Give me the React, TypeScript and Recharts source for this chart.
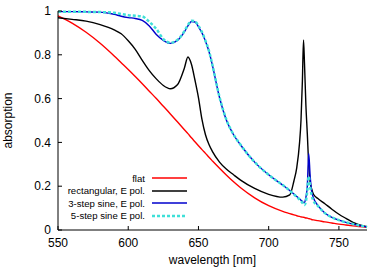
import { LineChart, Line, XAxis, YAxis, Legend } from 'recharts'

const FONT = '"Liberation Sans", Arial, Helvetica, sans-serif'

// wavelength grid in nm (denser around the narrow resonances near 725 nm)
const wavelength = [
  550, 560, 570, 580, 590, 595, 600, 605, 610, 615, 620, 625, 630, 635, 640, 642.5, 645, 647.5,
  650, 652.5, 655, 657.5, 660, 665, 670, 675, 680, 690, 700, 710, 715, 718, 720, 722, 723, 724,
  724.8, 725.5, 726.5, 727.5, 728.5, 729.5, 730.5, 732, 735, 740, 745, 750, 755, 760, 770,
]

const flat = [
  0.978, 0.945, 0.903, 0.853, 0.795, 0.764, 0.733, 0.701, 0.668, 0.634, 0.6, 0.565, 0.53, 0.494,
  0.458, 0.44, 0.421, 0.403, 0.385, 0.367, 0.35, 0.332, 0.315, 0.282, 0.25, 0.22, 0.193, 0.147,
  0.111, 0.085, 0.075, 0.069, 0.065, 0.062, 0.06, 0.059, 0.058, 0.057, 0.055, 0.054, 0.052, 0.051,
  0.048, 0.046, 0.043, 0.037, 0.032, 0.027, 0.023, 0.019, 0.012,
]

const rectangular = [
  0.969, 0.962, 0.954, 0.938, 0.914, 0.896, 0.864, 0.825, 0.775, 0.728, 0.69, 0.66, 0.645, 0.663,
  0.74, 0.79, 0.757, 0.685, 0.605, 0.505, 0.435, 0.39, 0.358, 0.31, 0.277, 0.252, 0.228, 0.19,
  0.163, 0.15, 0.16, 0.225, 0.285, 0.4, 0.5, 0.68, 0.868, 0.76, 0.57, 0.44, 0.3, 0.22, 0.19,
  0.162, 0.144, 0.12, 0.095, 0.072, 0.053, 0.035, 0.015,
]

const sine3 = [
  0.997, 0.997, 0.996, 0.995, 0.985, 0.976, 0.97, 0.966, 0.957, 0.932, 0.893, 0.866, 0.852, 0.866,
  0.905, 0.932, 0.952, 0.95, 0.928, 0.9, 0.862, 0.815, 0.75, 0.605, 0.5, 0.435, 0.388, 0.31,
  0.252, 0.205, 0.18, 0.164, 0.153, 0.142, 0.136, 0.13, 0.125, 0.126, 0.15, 0.2, 0.35, 0.25, 0.18,
  0.145, 0.112, 0.078, 0.058, 0.045, 0.035, 0.027, 0.014,
]

const sine5 = [
  0.997, 0.997, 0.996, 0.995, 0.992, 0.986, 0.981, 0.978, 0.975, 0.95, 0.918, 0.872, 0.855, 0.868,
  0.908, 0.936, 0.955, 0.953, 0.932, 0.904, 0.864, 0.818, 0.752, 0.607, 0.502, 0.436, 0.389, 0.31,
  0.252, 0.205, 0.18, 0.163, 0.151, 0.139, 0.132, 0.124, 0.118, 0.114, 0.13, 0.18, 0.245, 0.2, 0.16,
  0.132, 0.11, 0.077, 0.058, 0.045, 0.035, 0.027, 0.014,
]

const xTicks = [550, 600, 650, 700, 750]
const yTicks = [0, 0.2, 0.4, 0.6, 0.8, 1]

const series = [
  { key: 'flat', name: 'flat', color: '#ff0000', width: 1.4, dash: undefined },
  { key: 'rect', name: 'rectangular, E pol.', color: '#000000', width: 1.4, dash: undefined },
  { key: 'sine3', name: '3-step sine, E pol.', color: '#0000cc', width: 1.4, dash: undefined },
  { key: 'sine5', name: '5-step sine E pol.', color: '#3fe0d8', width: 2.5, dash: '3 2' },
]

const data = wavelength.map((wl, i) => ({
  wl,
  flat: flat[i],
  rect: rectangular[i],
  sine3: sine3[i],
  sine5: sine5[i],
}))

// gnuplot-style key: right-aligned text, sample line on the right
function KeyBox() {
  return (
    <div style={{ fontFamily: FONT, fontSize: 9.6, color: '#000' }}>
      {series.map(s => (
        <div key={s.key} style={{ display: 'flex', alignItems: 'center', height: 12.45 }}>
          <span style={{ width: 145, textAlign: 'right', whiteSpace: 'nowrap' }}>{s.name}</span>
          <svg width={42} height={12} style={{ display: 'block' }}>
            <line x1={7} x2={42} y1={6} y2={6} stroke={s.color} strokeWidth={s.width} strokeDasharray={s.dash} />
          </svg>
        </div>
      ))}
    </div>
  )
}

const tickStyle = { fill: '#000', fontSize: 12, fontFamily: FONT }
const blank = () => ''

export default function App() {
  return (
    <div style={{ position: 'absolute', left: 0, top: 0 }}>
      <LineChart width={371} height={269} data={data} margin={{ top: 11, right: 4, bottom: 0, left: 8 }}>
        <XAxis
          xAxisId="x"
          dataKey="wl"
          type="number"
          domain={[550, 770]}
          ticks={xTicks}
          height={39}
          tick={tickStyle}
          tickSize={-4}
          tickMargin={12}
          stroke="#000"
          label={{ value: 'wavelength [nm]', position: 'insideBottom', offset: 5, fill: '#000', fontSize: 12, fontFamily: FONT }}
        />
        <XAxis
          xAxisId="top"
          orientation="top"
          type="number"
          domain={[550, 770]}
          ticks={xTicks}
          height={0}
          mirror
          tickSize={4}
          tickFormatter={blank}
          stroke="#000"
        />
        <YAxis
          yAxisId="y"
          type="number"
          domain={[0, 1]}
          ticks={yTicks}
          width={50}
          tick={tickStyle}
          tickSize={-4}
          tickMargin={11}
          stroke="#000"
          label={{ value: 'absorption', angle: -90, position: 'insideLeft', offset: 0, fill: '#000', fontSize: 12, fontFamily: FONT, style: { textAnchor: 'middle' } }}
        />
        <YAxis
          yAxisId="right"
          orientation="right"
          type="number"
          domain={[0, 1]}
          ticks={yTicks}
          width={0}
          mirror
          tickSize={4}
          tickFormatter={blank}
          stroke="#000"
        />
        <Legend
          layout="vertical"
          align="center"
          verticalAlign="middle"
          wrapperStyle={{ left: 0, top: 172, width: 190 }}
          content={KeyBox}
        />
        {series.map(s => (
          <Line
            key={s.key}
            xAxisId="x"
            yAxisId="y"
            type="monotone"
            dataKey={s.key}
            name={s.name}
            stroke={s.color}
            strokeWidth={s.width}
            strokeDasharray={s.dash}
            dot={false}
            activeDot={false}
            isAnimationActive={false}
          />
        ))}
      </LineChart>
    </div>
  )
}
